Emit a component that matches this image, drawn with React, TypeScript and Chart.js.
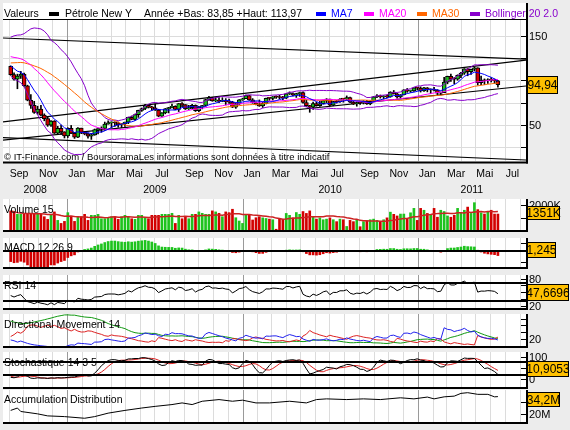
import React, { useEffect, useRef } from "react";
import { Chart, registerables } from "chart.js";

Chart.register(...registerables);

// ---------------- DATA (weekly, first candle = week of 5 Sep 2008) ----------------
const priorClose = [91.77, 95.5, 98.81, 101.84, 105.15, 110.21, 101.84, 105.62, 106.23, 110.14, 116.69, 118.52, 116.32, 125.96, 126.29, 132.19, 127.35, 138.54, 134.86, 134.62, 140.21, 145.29, 145.08, 128.88, 123.26, 125.1, 115.2, 113.77, 114.59, 115.46];
const priorHigh = [92.5, 96.0, 101.3, 103.0, 105.9, 111.0, 111.8, 107.9, 106.8, 112.2, 117.0, 119.9, 119.9, 126.2, 127.8, 135.1, 132.7, 139.1, 139.9, 139.9, 141.0, 145.9, 147.3, 145.2, 131.1, 128.6, 125.3, 119.5, 122.0, 118.3];
const priorLow = [86.1, 89.5, 94.6, 97.5, 98.6, 103.5, 101.0, 98.7, 99.6, 106.0, 109.2, 114.6, 111.3, 116.2, 122.1, 125.8, 125.5, 122.5, 130.5, 130.6, 131.4, 139.9, 135.8, 128.2, 121.5, 120.4, 114.6, 111.3, 112.0, 113.1];

const openPrices = [
  115.46, 106.23, 101.18, 104.55, 106.89, 93.88, 77.7, 71.85, 64.15, 67.81,
  61.04, 57.04, 49.93, 54.43, 40.81, 46.28, 42.36, 37.71, 46.34, 40.83,
  36.51, 46.47, 41.68, 40.17, 37.51, 38.94, 44.76, 45.52, 46.25, 51.06,
  52.38, 52.51, 52.24, 50.33, 51.55, 53.2, 58.63, 56.34, 61.67, 66.31,
  68.44, 72.04, 69.55, 69.16, 66.73, 59.89, 63.56, 68.05, 69.45, 70.93,
  67.51, 73.89, 72.74, 68.02, 69.29, 72.04, 66.02, 69.95, 71.77, 78.53,
  80.5, 77.0, 77.43, 76.35, 77.47, 76.05, 75.47, 69.87, 73.36, 78.05,
  79.36, 82.75, 78.0, 74.54, 72.89, 71.19, 74.13, 79.81, 79.66, 81.5,
  81.24, 80.68, 80.0, 84.87, 84.92, 83.24, 85.12, 86.15, 75.11, 71.61,
  70.04, 74.0, 71.51, 73.78, 77.18, 78.86, 72.14, 76.09, 76.01, 78.98,
  78.95, 80.7, 75.39, 73.46, 75.17, 74.6, 76.45, 73.66, 76.49, 81.58,
  82.66, 81.25, 81.69, 81.43, 86.85, 84.88, 81.51, 83.76, 89.19, 87.79,
  88.02, 91.51, 91.38, 88.03, 91.54, 89.11, 89.34, 89.03, 85.58, 86.2,
  97.88, 104.42, 101.16, 101.07, 105.4, 107.94, 112.79, 109.66, 112.29, 113.93,
  97.18, 99.65, 99.49, 100.59, 100.22, 99.29,
];
const highPrices = [
  116.0, 108.3, 106.8, 110.0, 108.0, 94.5, 84.0, 76.5, 71.0, 72.0,
  62.5, 59.3, 55.0, 54.9, 48.5, 50.0, 42.5, 47.0, 49.5, 41.5,
  47.0, 46.5, 42.3, 41.0, 40.4, 45.5, 46.5, 48.0, 53.3, 54.7,
  53.5, 53.5, 53.3, 51.7, 53.3, 58.8, 60.1, 62.3, 66.6, 69.0,
  73.2, 72.5, 71.0, 73.4, 67.5, 64.0, 68.5, 69.7, 73.4, 71.5,
  74.0, 75.0, 72.8, 72.0, 73.0, 72.5, 70.8, 72.0, 78.9, 82.0,
  81.0, 81.0, 80.5, 80.5, 79.5, 79.1, 76.5, 74.5, 78.5, 80.0,
  83.5, 83.0, 79.5, 76.0, 78.0, 75.5, 80.0, 80.5, 81.8, 82.5,
  83.2, 81.9, 85.0, 87.0, 86.0, 85.5, 86.8, 87.1, 78.0, 72.0,
  75.7, 75.5, 76.4, 77.8, 79.5, 79.0, 76.4, 77.5, 79.5, 79.8,
  82.5, 81.2, 76.5, 75.8, 76.0, 77.2, 77.6, 77.0, 81.8, 84.0,
  83.5, 82.8, 83.5, 87.2, 88.6, 85.5, 84.0, 89.4, 90.8, 89.0,
  91.9, 92.0, 92.6, 92.0, 91.9, 90.5, 92.2, 89.5, 86.9, 103.4,
  104.6, 106.9, 103.0, 106.1, 108.8, 113.0, 113.0, 112.5, 114.8, 114.0,
  104.6, 101.5, 101.7, 103.0, 101.5, 100.0,
];
const lowPrices = [
  105.5, 100.0, 90.5, 102.0, 93.0, 77.0, 68.6, 63.0, 62.0, 60.5,
  54.7, 48.5, 48.4, 40.5, 40.0, 39.5, 35.5, 36.0, 40.5, 35.0,
  35.8, 40.3, 39.0, 35.3, 33.9, 38.5, 40.0, 41.9, 44.0, 50.8,
  47.0, 48.5, 47.5, 47.0, 48.3, 51.5, 55.8, 55.0, 58.5, 65.2,
  67.0, 69.0, 66.5, 66.2, 59.2, 59.5, 62.5, 63.5, 69.0, 67.1,
  65.0, 70.5, 67.3, 67.3, 68.0, 65.1, 65.0, 68.0, 71.0, 77.5,
  76.5, 76.0, 75.0, 76.0, 72.4, 74.0, 69.5, 68.6, 73.0, 77.5,
  79.3, 77.5, 74.3, 72.4, 70.8, 69.5, 73.5, 77.5, 77.8, 79.8,
  79.0, 78.0, 79.5, 84.0, 82.5, 80.8, 82.0, 74.5, 70.7, 64.2,
  67.5, 71.0, 70.8, 73.5, 75.0, 71.4, 71.5, 74.5, 75.3, 75.5,
  78.2, 75.0, 72.8, 71.0, 73.0, 73.5, 73.1, 72.6, 76.0, 80.5,
  80.0, 79.1, 80.5, 81.0, 84.5, 80.0, 80.3, 83.5, 86.5, 86.5,
  87.5, 89.0, 86.8, 87.5, 87.0, 85.1, 88.0, 84.0, 83.9, 86.0,
  96.0, 98.6, 96.2, 100.0, 103.0, 106.5, 105.0, 106.5, 110.5, 94.6,
  95.0, 95.2, 96.4, 98.0, 96.6, 92.4,
];
const closePrices = [
  106.23, 101.18, 104.55, 106.89, 93.88, 77.7, 71.85, 64.15, 67.81, 61.04,
  57.04, 49.93, 54.43, 40.81, 46.28, 42.36, 37.71, 46.34, 40.83, 36.51,
  46.47, 41.68, 40.17, 37.51, 38.94, 44.76, 45.52, 46.25, 51.06, 52.38,
  52.51, 52.24, 50.33, 51.55, 53.2, 58.63, 56.34, 61.67, 66.31, 68.44,
  72.04, 69.55, 69.16, 66.73, 59.89, 63.56, 68.05, 69.45, 70.93, 67.51,
  73.89, 72.74, 68.02, 69.29, 72.04, 66.02, 69.95, 71.77, 78.53, 80.5,
  77.0, 77.43, 76.35, 77.47, 76.05, 75.47, 69.87, 73.36, 78.05, 79.36,
  82.75, 78.0, 74.54, 72.89, 71.19, 74.13, 79.81, 79.66, 81.5, 81.24,
  80.68, 80.0, 84.87, 84.92, 83.24, 85.12, 86.15, 75.11, 71.61, 70.04,
  74.0, 71.51, 73.78, 77.18, 78.86, 72.14, 76.09, 76.01, 78.98, 78.95,
  80.7, 75.39, 73.46, 75.17, 74.6, 76.45, 73.66, 76.49, 81.58, 82.66,
  81.25, 81.69, 81.43, 86.85, 84.88, 81.51, 83.76, 89.19, 87.79, 88.02,
  91.51, 91.38, 88.03, 91.54, 89.11, 89.34, 89.03, 85.58, 86.2, 97.88,
  104.42, 101.16, 101.07, 105.4, 107.94, 112.79, 109.66, 112.29, 113.93, 97.18,
  99.65, 99.49, 100.59, 100.22, 99.29, 94.94,
];
const volumeK = [
  1550, 1410, 1280, 1280, 1280, 1280, 1280, 1280, 1280, 1280,
  1090, 880, 1280, 1470, 800, 560, 720, 1410, 1150, 720,
  1090, 1090, 1280, 800, 1200, 1200, 1280, 930, 930, 1010,
  1090, 1090, 880, 1090, 1200, 1090, 930, 880, 1200, 1200,
  1010, 930, 1200, 1200, 1200, 1280, 1280, 1280, 1360, 560,
  1200, 930, 1090, 930, 1280, 1280, 1470, 1360, 1280, 1280,
  1550, 1470, 1360, 1090, 1470, 1410, 1680, 1010, 750, 560,
  1280, 1280, 830, 1010, 1090, 1000, 950, 900, 850, 100,
  950, 880, 1350, 1200, 1000, 1420, 1280, 1500, 1350, 1550,
  1100, 900, 1000, 850, 900, 1000, 850, 700, 900, 850,
  320, 800, 700, 850, 300, 700, 750, 850, 900, 800,
  700, 850, 1000, 1450, 1280, 1150, 1300, 1300, 900, 1400,
  1750, 800, 1750, 1600, 1350, 1200, 1750, 1050, 1600, 1500,
  1150, 1050, 1200, 1750, 1400, 1600, 1850, 1350, 2200, 1650,
  1400, 1300, 1450, 1600, 1300, 1300,
];
const adWeeks = [0, 2, 3, 8, 11, 16, 22, 25, 29, 34, 39, 43, 48, 51, 54, 57, 62, 66, 69, 73, 77, 83, 88, 91, 94, 100, 105, 110, 116, 120, 124, 126, 129, 132, 134, 136, 139, 142, 144, 145];
const adMillions = [22.6, 24.6, 21.7, 19.7, 18.0, 17.4, 16.0, 17.4, 20.3, 22.6, 24.6, 26.0, 27.5, 28.9, 27.5, 30.3, 31.7, 30.3, 31.2, 28.9, 28.9, 30.3, 28.9, 31.7, 32.3, 31.7, 32.3, 31.7, 33.2, 32.3, 33.8, 32.3, 34.0, 34.6, 36.9, 37.5, 36.1, 36.1, 34.0, 34.2];
// trend lines: value at left edge and right edge of the plot
const trendStart = [147.2, 53.4, 33.2, 36.0];
const trendEnd = [123.7, 122.6, 93.6, 10.9];

const monthLabels = ["Jan", "", "Mar", "", "Mai", "", "Jul", "", "Sep", "", "Nov", ""];
const yearLabels = ["2008", "2009", "2010", "2011"];
const priceTicks = [150, 125, 100, 75, 50, 25];
const priceTickLabels = ["150", "", "100", "", "50", ""];
const volumeTicks = [2000, 1000];
const volumeTickLabels = ["2000K", ""];
const rsiTicks = [80, 65, 50, 35, 20];
const rsiTickLabels = ["80", "", "", "", "20"];
const dmTicks = [50, 40, 30, 20];
const dmTickLabels = ["", "", "", "20"];
const stochTicks = [100, 50, 0];
const stochTickLabels = ["100", "", "0"];
const adTicks = [30, 20];
const adTickLabels = ["", "20M"];
const lastPrice = "94,94";
const lastVolume = "1351K";
const lastMacd = "1,245";
const lastRsi = "47,6696";
const lastStoch = "10,9053";
const lastAd = "34,2M";

// ---------------- LAYOUT ----------------
const W = 570, LEFT = 3, AXIS_X = 526;
const X_MIN = -2.29, X_MAX = 153.36;
const FIRST_WEEK = new Date(2008, 8, 5).getTime();
const WEEK_MS = 7 * 86400000;
const FONT = "'Liberation Sans', Arial, sans-serif";
const GREEN = "#1EC31E", RED = "#D20000";

const monthStarts: { w: number; m: number; y: number }[] = [];
for (let y = 2008; y <= 2011; y++)
  for (let m = 0; m < 12; m++) {
    const w = (new Date(y, m, 1).getTime() - FIRST_WEEK) / WEEK_MS;
    if (w > X_MIN && w < X_MAX) monthStarts.push({ w, m, y });
  }

// ---------------- INDICATORS built from the price arrays ----------------
const P = priorClose.length;
const fullC = priorClose.concat(closePrices);
const fullH = priorHigh.concat(highPrices);
const fullL = priorLow.concat(lowPrices);

function sma(a: number[], n: number) {
  return a.map((_, i) => {
    const s = Math.max(0, i - n + 1);
    let t = 0;
    for (let k = s; k <= i; k++) t += a[k];
    return t / (i - s + 1);
  });
}
function sdev(a: number[], n: number) {
  return a.map((_, i) => {
    const s = Math.max(0, i - n + 1);
    const w = a.slice(s, i + 1);
    const m = w.reduce((p, c) => p + c, 0) / w.length;
    return Math.sqrt(w.reduce((p, c) => p + (c - m) * (c - m), 0) / w.length);
  });
}
function ema(a: number[], n: number) {
  const k = 2 / (n + 1);
  let e = a[0];
  return a.map((v, i) => (e = i === 0 ? v : v * k + e * (1 - k)));
}
function rsi(a: number[], n: number) {
  const out = a.map(() => 50);
  let ag = 0, al = 0;
  for (let i = 1; i < a.length; i++) {
    const d = a[i] - a[i - 1];
    const g = Math.max(d, 0), l = Math.max(-d, 0);
    if (i <= n) { ag += g / n; al += l / n; } else { ag = (ag * (n - 1) + g) / n; al = (al * (n - 1) + l) / n; }
    out[i] = al === 0 ? 100 : 100 - 100 / (1 + ag / al);
  }
  return out;
}
function dmi(h: number[], l: number[], c: number[], n: number) {
  const len = c.length;
  const pdi = new Array(len).fill(0), mdi = new Array(len).fill(0), adx = new Array(len).fill(0);
  let trS = 0, pS = 0, mS = 0, ax = 0;
  for (let i = 1; i < len; i++) {
    const up = h[i] - h[i - 1], dn = l[i - 1] - l[i];
    const pdm = up > dn && up > 0 ? up : 0;
    const mdm = dn > up && dn > 0 ? dn : 0;
    const tr = Math.max(h[i] - l[i], Math.abs(h[i] - c[i - 1]), Math.abs(l[i] - c[i - 1]));
    if (i <= n) { trS += tr; pS += pdm; mS += mdm; } else { trS = trS - trS / n + tr; pS = pS - pS / n + pdm; mS = mS - mS / n + mdm; }
    const p = (100 * pS) / trS, m = (100 * mS) / trS;
    pdi[i] = p; mdi[i] = m;
    const dx = p + m === 0 ? 0 : (100 * Math.abs(p - m)) / (p + m);
    ax = i <= n ? (ax * (i - 1) + dx) / i : (ax * (n - 1) + dx) / n;
    adx[i] = ax;
  }
  return { pdi, mdi, adx };
}

const ma7 = sma(fullC, 7).slice(P);
const ma20Full = sma(fullC, 20);
const sd20 = sdev(fullC, 20);
const ma20 = ma20Full.slice(P);
const bbUp = ma20Full.map((m, i) => m + 2 * sd20[i]).slice(P);
const bbDn = ma20Full.map((m, i) => m - 2 * sd20[i]).slice(P);
const ma30 = sma(fullC, 30).slice(P);
const e12 = ema(fullC, 12), e26 = ema(fullC, 26);
const macdLine = e12.map((v, i) => v - e26[i]);
const macdSig = ema(macdLine, 9);
const macdHist = macdLine.map((v, i) => v - macdSig[i]).slice(P);
const rsi14 = rsi(fullC, 14).slice(P);
const rawK = fullC.map((c, i) => {
  let hh = -Infinity, ll = Infinity;
  for (let k = Math.max(0, i - 13); k <= i; k++) { hh = Math.max(hh, fullH[k]); ll = Math.min(ll, fullL[k]); }
  return hh === ll ? 50 : ((c - ll) / (hh - ll)) * 100;
});
const slowK = sma(rawK, 3);
const slowD = sma(slowK, 5).slice(P);
const stochK = slowK.slice(P);
const dm = dmi(fullH, fullL, fullC, 14);
const pdi = dm.pdi.slice(P), mdi = dm.mdi.slice(P), adx = dm.adx.slice(P);
const volMa = sma(volumeK, 15);
const isUp = closePrices.map((c, i) => c >= openPrices[i]);

const pts = (a: number[]) => a.map((v, i) => ({ x: i, y: v }));
const lineDs = (a: number[], color: string, order: number, width = 1) => ({
  type: "line", data: pts(a), borderColor: color, borderWidth: width, pointRadius: 0, tension: 0, order,
});

// ---------------- CHART HELPERS ----------------
type Geo = { top: number; height: number; whiteTop: number; border: number; caTop: number; caBottom: number };
type Deco = {
  ticks: number[]; tickLabels: string[]; grid?: number[]; hLines?: number[];
  title?: string; titleY?: number;
  box?: { text: string; x: number; y: number; w: number; h: number; size: number };
  after?: (ctx: CanvasRenderingContext2D, chart: any) => void;
};
function valueAt(map: number[], py: number) {
  const [v1, p1, v2, p2] = map;
  return v1 + ((py - p1) * (v2 - v1)) / (p2 - p1);
}
function decoPlugin(geo: Geo, deco: Deco) {
  const T = geo.top;
  return {
    id: "deco",
    beforeDraw(chart: any) {
      const ctx = chart.ctx, xs = chart.scales.x, ys = chart.scales.y, ca = chart.chartArea;
      ctx.save();
      ctx.fillStyle = "#FFFFFF";
      ctx.fillRect(LEFT, geo.whiteTop - T, AXIS_X - LEFT, geo.border - geo.whiteTop);
      ctx.lineWidth = 1;
      for (const v of deco.grid || []) {
        const py = Math.round(ys.getPixelForValue(v)) + 0.5;
        ctx.strokeStyle = "#DCDCDC";
        ctx.beginPath(); ctx.moveTo(LEFT, py); ctx.lineTo(AXIS_X, py); ctx.stroke();
      }
      for (const ms of monthStarts) {
        const px = Math.round(xs.getPixelForValue(ms.w)) + 0.5;
        ctx.strokeStyle = ms.m === 0 ? "#9A9A9A" : "#DCDCDC";
        ctx.beginPath(); ctx.moveTo(px, ca.top); ctx.lineTo(px, ca.bottom); ctx.stroke();
      }
      ctx.restore();
    },
    afterDraw(chart: any) {
      const ctx = chart.ctx, ys = chart.scales.y;
      ctx.save();
      ctx.fillStyle = "#000";
      for (const v of deco.hLines || []) {
        const py = Math.round(ys.getPixelForValue(v));
        ctx.fillRect(LEFT, py - 1, AXIS_X - LEFT, 2);
      }
      ctx.fillRect(LEFT, geo.border - T - 1, AXIS_X - LEFT + 2, 2);
      ctx.fillRect(AXIS_X, geo.whiteTop - T, 2, geo.border - geo.whiteTop + 1);
      ctx.font = `11px ${FONT}`;
      ctx.textBaseline = "middle";
      ctx.textAlign = "left";
      deco.ticks.forEach((v, k) => {
        const py = Math.round(ys.getPixelForValue(v));
        ctx.fillRect(AXIS_X - 5, py, 5, 1);
        const t = deco.tickLabels[k];
        if (t) ctx.fillText(t, AXIS_X + 3, py + 1);
      });
      ctx.font = `10.5px ${FONT}`;
      if (deco.title) ctx.fillText(deco.title, 4, (deco.titleY as number) - T);
      if (deco.box) {
        const b = deco.box;
        ctx.fillStyle = "#FFC000";
        ctx.fillRect(b.x, b.y - T, b.w, b.h);
        ctx.strokeStyle = "#000";
        ctx.lineWidth = 1;
        ctx.strokeRect(b.x + 0.5, b.y - T + 0.5, b.w - 1, b.h - 1);
        ctx.fillStyle = "#000";
        ctx.font = `${b.size}px ${FONT}`;
        ctx.textAlign = "center";
        ctx.fillText(b.text, b.x + b.w / 2, b.y - T + b.h / 2 + 1);
        ctx.textAlign = "left";
      }
      if (deco.after) deco.after(ctx, chart);
      ctx.restore();
    },
  };
}
function makeConfig(geo: Geo, map: number[], datasets: any[], deco: Deco) {
  return {
    type: "bar",
    data: { datasets },
    options: {
      responsive: false,
      animation: false,
      devicePixelRatio: 1,
      events: [],
      layout: { padding: { left: LEFT, right: W - AXIS_X, top: geo.caTop - geo.top, bottom: geo.top + geo.height - geo.caBottom } },
      plugins: { legend: { display: false }, tooltip: { enabled: false } },
      scales: {
        x: { type: "linear", min: X_MIN, max: X_MAX, display: false, offset: false },
        y: { type: "linear", min: valueAt(map, geo.caBottom), max: valueAt(map, geo.caTop), display: false },
      },
    },
    plugins: [decoPlugin(geo, deco)],
  } as any;
}

// ---------------- PANELS ----------------
const GEO_MAIN: Geo = { top: 0, height: 198, whiteTop: 3, border: 162.5, caTop: 20, caBottom: 161 };
const GEO_VOL: Geo = { top: 196, height: 38, whiteTop: 199, border: 231, caTop: 199, caBottom: 230 };
const GEO_MACD: Geo = { top: 235, height: 36, whiteTop: 238, border: 268, caTop: 238, caBottom: 267 };
const GEO_RSI: Geo = { top: 272, height: 40, whiteTop: 275, border: 309, caTop: 275, caBottom: 308 };
const GEO_DM: Geo = { top: 311, height: 38, whiteTop: 314, border: 347, caTop: 314, caBottom: 346 };
const GEO_STO: Geo = { top: 349, height: 41, whiteTop: 352, border: 388, caTop: 352, caBottom: 387 };
const GEO_AD: Geo = { top: 388, height: 42, whiteTop: 390, border: 423, caTop: 390, caBottom: 422 };

const headerItems = [
  { text: "Valeurs", x: 4, color: "#000" },
  { square: "#000", x: 49 },
  { text: "Pétrole New Y", x: 65, color: "#000" },
  { text: "Année +Bas: 83,85 +Haut: 113,97", x: 144, color: "#000" },
  { square: "#0000FF", x: 316 },
  { text: "MA7", x: 331, color: "#0000FF" },
  { square: "#FF00FF", x: 364 },
  { text: "MA20", x: 379, color: "#FF00FF" },
  { square: "#FF6600", x: 417 },
  { text: "MA30", x: 432, color: "#FF6600" },
  { square: "#8800CC", x: 470 },
  { text: "Bollinger 20 2.0", x: 485, color: "#8800CC" },
];
const watermark = "© IT-Finance.com / BoursoramaLes informations sont données à titre indicatif";

function buildMain() {
  const idx = closePrices.map((_, i) => i);
  const datasets: any[] = [
    ...trendStart.map((s, k) => ({
      type: "line", data: [{ x: X_MIN, y: s }, { x: X_MAX, y: trendEnd[k] }],
      borderColor: "#000", borderWidth: 1.2, pointRadius: 0, order: 10,
    })),
    { type: "bar", data: idx.map((i) => ({ x: i, y: [lowPrices[i], highPrices[i]] })), backgroundColor: "#000", barThickness: 1, grouped: false, order: 9 },
    {
      type: "bar", data: idx.map((i) => ({ x: i, y: [openPrices[i], closePrices[i]] })),
      backgroundColor: isUp.map((u) => (u ? GREEN : RED)), borderColor: "#000", borderWidth: 1, borderSkipped: false,
      barThickness: 4, minBarLength: 1, grouped: false, order: 8,
    },
    lineDs(bbUp, "#8800CC", 5),
    lineDs(bbDn, "#8800CC", 5),
    lineDs(ma30, "#FF6600", 4),
    lineDs(ma20, "#FF00FF", 3),
    lineDs(ma7, "#0000FF", 2),
  ];
  const after = (ctx: CanvasRenderingContext2D, chart: any) => {
    const xs = chart.scales.x;
    ctx.fillStyle = "#000";
    ctx.fillRect(LEFT, 19, AXIS_X - LEFT, 1);
    ctx.font = `10.5px ${FONT}`;
    ctx.textBaseline = "middle";
    ctx.textAlign = "left";
    for (const it of headerItems as any[]) {
      if (it.square) { ctx.fillStyle = it.square; ctx.fillRect(it.x, 12, 10, 4); }
      else { ctx.fillStyle = it.color; ctx.fillText(it.text, it.x, 14); }
    }
    ctx.fillStyle = "#000";
    ctx.font = `9.5px ${FONT}`;
    ctx.fillText(watermark, 4, 157);
    ctx.font = `10.5px ${FONT}`;
    for (const ms of monthStarts) {
      const lab = monthLabels[ms.m];
      if (lab) ctx.fillText(lab, xs.getPixelForValue(ms.w) + 1, 174);
    }
    ctx.textAlign = "center";
    yearLabels.forEach((yl) => {
      const y = Number(yl);
      const a = Math.max(X_MIN, (new Date(y, 0, 1).getTime() - FIRST_WEEK) / WEEK_MS);
      const b = Math.min(X_MAX, (new Date(y + 1, 0, 1).getTime() - FIRST_WEEK) / WEEK_MS);
      ctx.fillText(yl, xs.getPixelForValue((a + b) / 2), 190);
    });
    ctx.textAlign = "left";
  };
  return makeConfig(GEO_MAIN, [150, 35.5, 50, 125], datasets, {
    ticks: priceTicks, tickLabels: priceTickLabels, grid: priceTicks,
    box: { text: lastPrice, x: 527, y: 76, w: 31, h: 18, size: 12 }, after,
  });
}

function buildVolume() {
  const datasets: any[] = [
    { type: "bar", data: pts(volumeK), backgroundColor: isUp.map((u) => (u ? GREEN : RED)), barThickness: 2, grouped: false, order: 5 },
    lineDs(volMa, "#CC2222", 1, 1.5),
  ];
  return makeConfig(GEO_VOL, [0, 230.5, 2000, 205.2], datasets, {
    ticks: volumeTicks, tickLabels: volumeTickLabels, title: "Volume 15", titleY: 210,
    box: { text: lastVolume, x: 527, y: 206, w: 33, h: 14, size: 12 },
  });
}

function buildMacd() {
  const maxPos = Math.max(...macdHist);
  const map = [0, 251, maxPos, 240.4];
  const datasets: any[] = [
    { type: "bar", data: pts(macdHist), backgroundColor: macdHist.map((v) => (v >= 0 ? GREEN : RED)), barThickness: 2, grouped: false },
  ];
  return makeConfig(GEO_MACD, map, datasets, {
    ticks: [valueAt(map, 243), valueAt(map, 262)], tickLabels: ["", ""], hLines: [0],
    title: "MACD 12 26 9", titleY: 248,
    box: { text: lastMacd, x: 527, y: 242, w: 29, h: 16, size: 12 },
  });
}

function buildRsi() {
  return makeConfig(GEO_RSI, [70, 283.2, 30, 301.3], [lineDs(rsi14, "#000", 1)], {
    ticks: rsiTicks, tickLabels: rsiTickLabels, hLines: [70, 30], title: "RSI 14", titleY: 286,
    box: { text: lastRsi, x: 527, y: 284, w: 42, h: 17, size: 12 },
  });
}

function buildDm() {
  return makeConfig(GEO_DM, [20, 338.5, 50, 318.7], [lineDs(adx, "#119911", 3), lineDs(mdi, "#DD2222", 2), lineDs(pdi, "#2222EE", 1)], {
    ticks: dmTicks, tickLabels: dmTickLabels, title: "Directional Movement 14", titleY: 325.5,
  });
}

function buildStoch() {
  return makeConfig(GEO_STO, [80, 361.6, 20, 374.6], [lineDs(slowD, "#DD2222", 2), lineDs(stochK, "#000", 1)], {
    ticks: stochTicks, tickLabels: stochTickLabels, hLines: [80, 20], title: "Stochastique 14 3 5", titleY: 363,
    box: { text: lastStoch, x: 527, y: 361, w: 42, h: 16, size: 12 },
  });
}

function buildAd() {
  const data = adWeeks.map((w, i) => ({ x: w, y: adMillions[i] }));
  return makeConfig(GEO_AD, [20, 413.5, 30, 401.6], [{ type: "line", data, borderColor: "#000", borderWidth: 1, pointRadius: 0, tension: 0 }], {
    ticks: adTicks, tickLabels: adTickLabels, title: "Accumulation Distribution", titleY: 400,
    box: { text: lastAd, x: 527, y: 392, w: 33, h: 15, size: 12 },
  });
}

function Panel({ geo, build }: { geo: Geo; build: () => any }) {
  const ref = useRef<HTMLCanvasElement>(null);
  useEffect(() => {
    const chart = new Chart(ref.current as HTMLCanvasElement, build());
    return () => chart.destroy();
  }, []);
  return (
    <canvas
      ref={ref}
      width={W}
      height={geo.height}
      style={{ position: "absolute", left: 0, top: geo.top, width: W, height: geo.height, display: "block" }}
    />
  );
}

export default function App() {
  return (
    <div style={{ position: "absolute", left: 0, top: 0, width: W, height: 430, background: "#ECECEC", overflow: "hidden" }}>
      <Panel geo={GEO_MAIN} build={buildMain} />
      <Panel geo={GEO_VOL} build={buildVolume} />
      <Panel geo={GEO_MACD} build={buildMacd} />
      <Panel geo={GEO_RSI} build={buildRsi} />
      <Panel geo={GEO_DM} build={buildDm} />
      <Panel geo={GEO_STO} build={buildStoch} />
      <Panel geo={GEO_AD} build={buildAd} />
    </div>
  );
}
